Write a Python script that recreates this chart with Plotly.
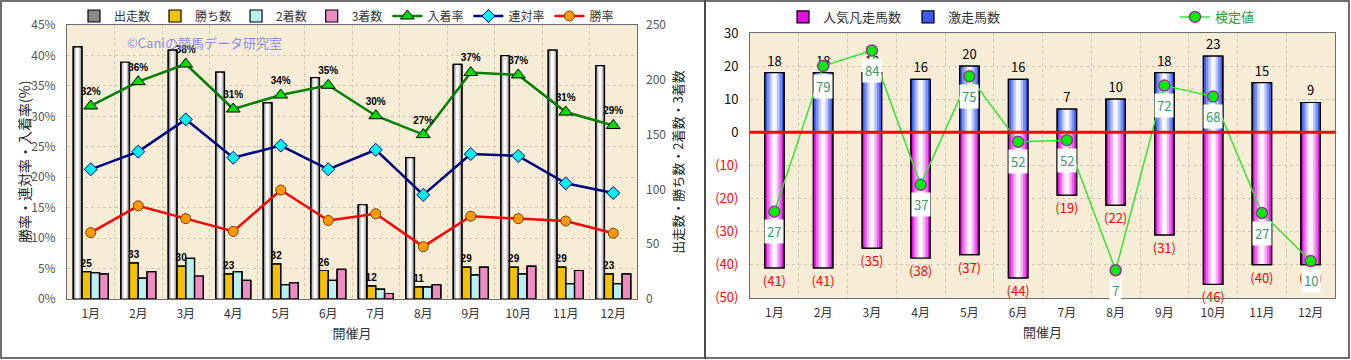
import plotly.graph_objects as go

# ---------------- data ----------------
months = ['1月', '2月', '3月', '4月', '5月', '6月', '7月', '8月', '9月', '10月', '11月', '12月']

# left chart
runners = [230, 216, 227, 207, 179, 202, 86, 129, 214, 222, 227, 213]      # 出走数
wins = [25, 33, 30, 23, 32, 26, 12, 11, 29, 29, 29, 23]                     # 勝ち数
seconds = [24, 19, 37, 25, 13, 17, 9, 11, 22, 23, 14, 14]                   # 2着数
thirds = [23, 25, 21, 17, 15, 27, 5, 13, 29, 30, 26, 23]                    # 3着数
place_rate = [31.7, 35.7, 38.6, 31.2, 33.5, 35.1, 30.1, 27.0, 37.2, 36.8, 30.7, 28.5]  # 入着率
place_label = ['32%', '36%', '38%', '31%', '34%', '35%', '30%', '27%', '37%', '37%', '31%', '29%']
quinella_rate = [21.3, 24.2, 29.5, 23.2, 25.2, 21.3, 24.5, 17.1, 23.8, 23.5, 19.0, 17.4]  # 連対率
win_rate = [10.9, 15.3, 13.2, 11.1, 17.9, 12.9, 14.0, 8.6, 13.6, 13.2, 12.8, 10.8]        # 勝率
left_pct_ticks = [0, 5, 10, 15, 20, 25, 30, 35, 40, 45]
left_cnt_ticks = [0, 50, 100, 150, 200, 250]

# right chart
fav_fail = [41, 41, 35, 38, 37, 44, 19, 22, 31, 46, 40, 40]     # 人気凡走馬数 (drawn downward)
longshot = [18, 18, 18, 16, 20, 16, 7, 10, 18, 23, 15, 9]      # 激走馬数
test_pos = [-24.0, 20.0, 24.7, -15.9, 16.9, -2.9, -2.4, -41.7, 14.1, 10.8, -24.4, -38.9]  # 検定値 plotted
test_val = [27, 79, 84, 37, 75, 52, 52, 7, 72, 68, 27, 10]      # 検定値 labels
right_ticks = [-50, -40, -30, -20, -10, 0, 10, 20, 30]

W, H = 1351, 360
FONT = 'Noto Sans CJK JP, Noto Sans, sans-serif'


def px_x(v):
    return v / W


def px_y(v):
    return 1 - v / H


fig = go.Figure()


def grad_bars(x, y, xa, ya, offset, width, layers, name, legend, showlegend=True,
              text=None, textfont=None):
    for i, (f, c) in enumerate(layers):
        fig.add_trace(go.Bar(
            x=x, y=y, xaxis=xa, yaxis=ya, name=name, legend=legend,
            offset=offset + width * (1 - f) / 2, width=width * f,
            marker=dict(color=c, line=dict(color='black', width=1.2 if i == 0 else 0)),
            showlegend=(showlegend and i == 0), hoverinfo='skip'))
    fig.add_trace(go.Bar(
        x=x, y=y, xaxis=xa, yaxis=ya, name=name, legend=legend,
        offset=offset, width=width,
        marker=dict(color='rgba(0,0,0,0)', line=dict(color='black', width=1.2)),
        text=text, textposition='outside' if text is not None else 'none',
        textfont=textfont, constraintext='none', cliponaxis=False,
        showlegend=False, hoverinfo='skip'))


BW = 0.185
# 出走数
grad_bars(months, runners, 'x', 'y', -2 * BW, BW,
          [(1.0, '#8a8a8a'), (0.7, '#c4c4c4'), (0.4, '#ececec'), (0.15, '#ffffff')],
          '出走数', 'legend')
# 勝ち数
grad_bars(months, wins, 'x', 'y', -BW, BW, [(1.0, '#f2c200')], '勝ち数', 'legend',
          text=[str(v) for v in wins],
          textfont=dict(size=10, color='black', family='Arial', weight='bold'))
# 2着数
grad_bars(months, seconds, 'x', 'y', 0, BW, [(1.0, '#b9f0f0')], '2着数', 'legend')
# 3着数
grad_bars(months, thirds, 'x', 'y', BW, BW, [(1.0, '#f08cc4')], '3着数', 'legend')

# lines (on overlaying percent axis, drawn above bars)
fig.add_trace(go.Scatter(
    x=months, y=place_rate, xaxis='x', yaxis='y2', name='入着率', legend='legend',
    mode='lines+markers+text', text=place_label, textposition='top center',
    textfont=dict(size=10, color='black', family='Arial', weight='bold'),
    line=dict(color='#008000', width=2.5),
    marker=dict(symbol='triangle-up', size=12, color='#00dd00', line=dict(color='black', width=1)),
    cliponaxis=False))
fig.add_trace(go.Scatter(
    x=months, y=quinella_rate, xaxis='x', yaxis='y2', name='連対率', legend='legend',
    mode='lines+markers',
    line=dict(color='#000080', width=2.5),
    marker=dict(symbol='diamond', size=10, color='#00f0f0', line=dict(color='#000080', width=1))))
fig.add_trace(go.Scatter(
    x=months, y=win_rate, xaxis='x', yaxis='y2', name='勝率', legend='legend',
    mode='lines+markers',
    line=dict(color='#ff0000', width=2.5),
    marker=dict(symbol='circle', size=10, color='#ff9900', line=dict(color='#7a4000', width=1))))

# ---------------- right chart ----------------
RW = 0.4
grad_bars(months, [-v for v in fav_fail], 'x2', 'y3', -RW / 2, RW,
          [(1.0, '#e010e0'), (0.75, '#ec66ec'), (0.5, '#f6b0f6'), (0.25, '#fff2ff')],
          '人気凡走馬数', 'legend2',
          text=['(%d)' % v for v in fav_fail],
          textfont=dict(size=13, color='#ff0000', family=FONT))
grad_bars(months, longshot, 'x2', 'y3', -RW / 2, RW,
          [(1.0, '#3d5cf5'), (0.75, '#7b8ff8'), (0.5, '#bac5fc'), (0.25, '#f3f5ff')],
          '激走馬数', 'legend2',
          text=[str(v) for v in longshot],
          textfont=dict(size=13, color='black', family=FONT))

fig.add_trace(go.Scatter(
    x=months, y=test_pos, xaxis='x2', yaxis='y3', name='検定値', legend='legend3',
    mode='lines+markers',
    line=dict(color='#33e633', width=1.5),
    marker=dict(symbol='circle', size=11, color='#00ee00', line=dict(color='#993399', width=1.5)),
    cliponaxis=False))

for m, yv, tv in zip(months, test_pos, test_val):
    fig.add_annotation(x=m, y=yv, xref='x2', yref='y3', text=str(tv), showarrow=False,
                       yshift=-20, bgcolor='white', borderpad=2,
                       font=dict(size=13, color='#3a9a6a', family=FONT))

# ---------------- layout ----------------
grid = dict(showgrid=True, gridcolor='#cfc6b4', griddash='dot', gridwidth=1)

fig.update_layout(
    width=W, height=H, margin=dict(l=0, r=0, t=0, b=0, autoexpand=False),
    paper_bgcolor='white', plot_bgcolor='#f7ecd6',
    barmode='overlay',
    font=dict(family=FONT, size=12, color='#333333'),
    xaxis=dict(domain=[px_x(67), px_x(637)], anchor='y', type='category', range=[-0.5, 11.5],
               tickson='boundaries', ticks='', showline=True, linecolor='#6e6e6e',
               mirror=True, tickfont=dict(size=12, color='#333'), ticklabelstandoff=4,
               title=dict(text='開催月', font=dict(size=13, color='#333'), standoff=8),
               **grid),
    yaxis=dict(domain=[px_y(299), px_y(25)], anchor='x', side='right',
               range=[0, 250], tickvals=left_cnt_ticks, showgrid=False, zeroline=False,
               ticks='', tickfont=dict(size=12, color='#555'), ticklabelstandoff=8,
               title=dict(text='出走数・勝ち数・2着数・3着数', font=dict(size=13, color='#222'),
                          standoff=8)),
    yaxis2=dict(overlaying='y', anchor='x', side='left', range=[0, 45],
                tickvals=left_pct_ticks, ticktext=['%d%%' % t for t in left_pct_ticks],
                zeroline=False,
                showline=True, linecolor='#6e6e6e', mirror=True,
                ticks='', tickfont=dict(size=12, color='#555'), ticklabelstandoff=8,
                **grid),
    xaxis2=dict(domain=[px_x(750), px_x(1335)], anchor='y3', type='category', range=[-0.5, 11.5],
                tickson='boundaries', ticks='', showline=True, linecolor='#6e6e6e',
                mirror=True, tickfont=dict(size=12, color='#333'), ticklabelstandoff=4,
                title=dict(text='開催月', font=dict(size=13, color='#333'), standoff=8),
                **grid),
    yaxis3=dict(domain=[px_y(297.7), px_y(33)], anchor='x2', range=[-50, 30],
                tickvals=right_ticks,
                ticktext=[('<span style="color:#ff0000">(%d)</span>' % -t) if t < 0 else str(t)
                          for t in right_ticks],
                zeroline=False, showline=True, linecolor='#6e6e6e', mirror=True,
                ticks='', tickfont=dict(size=13, color='#111'), ticklabelstandoff=8,
                **grid),
    legend=dict(orientation='h', x=px_x(74), y=px_y(16), xanchor='left', yanchor='middle',
                bgcolor='rgba(0,0,0,0)', font=dict(size=12, color='#333'),
                itemwidth=30, traceorder='normal'),
    legend2=dict(orientation='h', x=px_x(783), y=px_y(17), xanchor='left', yanchor='middle',
                 bgcolor='rgba(0,0,0,0)', font=dict(size=13, color='#333'),
                 itemwidth=30, traceorder='normal', entrywidth=80),
    legend3=dict(orientation='h', x=px_x(1175), y=px_y(17), xanchor='left', yanchor='middle',
                 bgcolor='rgba(0,0,0,0)', font=dict(size=13, color='#2e9a2e'),
                 itemwidth=30),
)

# left axis title (placed as rotated text)
fig.add_annotation(xref='paper', yref='paper', x=px_x(24), y=px_y(162), text='勝率・連対率・入着率(%)',
                   xanchor='center', yanchor='middle',
                   textangle=-90, showarrow=False, font=dict(size=14, color='#222', family=FONT))

# watermark
fig.add_annotation(xref='paper', yref='paper', x=px_x(204), y=px_y(42), text='©Caniの競馬データ研究室',
                   xanchor='center', yanchor='middle',
                   showarrow=False, font=dict(size=13, color='#8c8cf0', family=FONT))

# zero line on right chart
fig.add_shape(type='line', xref='x2 domain', yref='y3', x0=0, x1=1, y0=0, y1=0,
              line=dict(color='#ff0000', width=3), layer='above')

# panel borders
fig.add_shape(type='rect', xref='paper', yref='paper', x0=px_x(1), x1=px_x(705),
              y0=px_y(358), y1=px_y(1), line=dict(color='#404040', width=1.5))
fig.add_shape(type='rect', xref='paper', yref='paper', x0=px_x(705), x1=px_x(1349),
              y0=px_y(358), y1=px_y(1), line=dict(color='#404040', width=1.5))

fig.write_html('out.html', config={'displayModeBar': False},
               post_script="document.body.style.margin='0';document.body.style.overflow='hidden';")
